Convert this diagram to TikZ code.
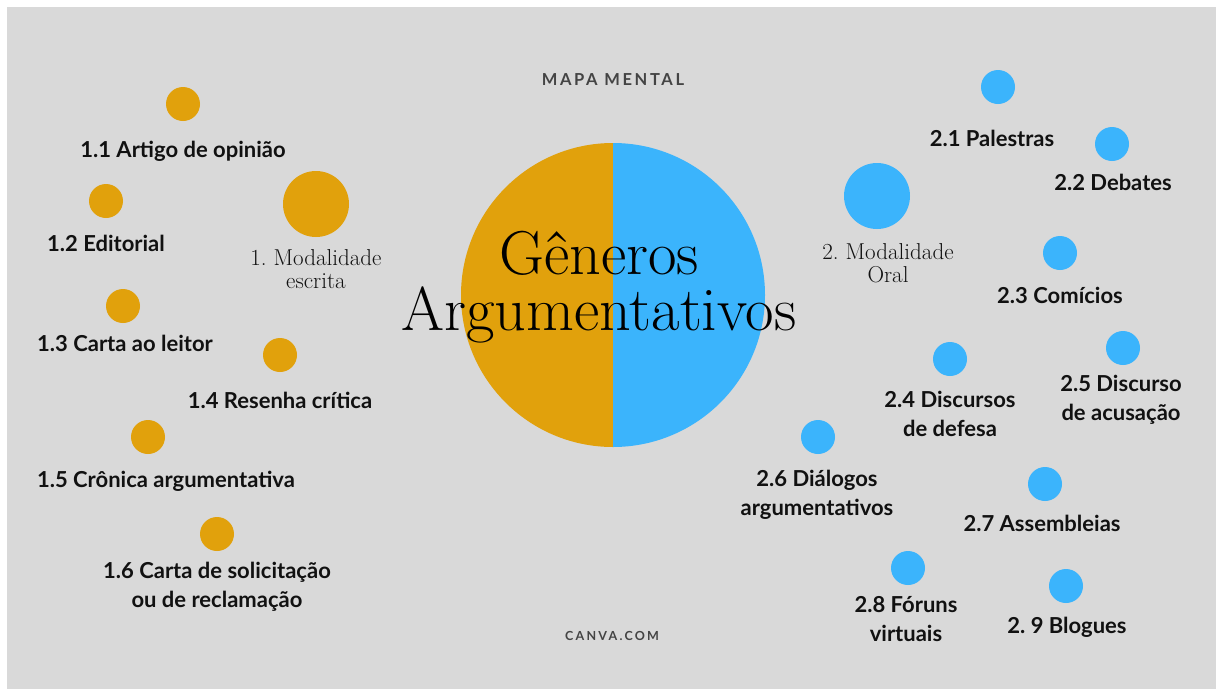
\documentclass[tikz,border=0pt]{standalone}
\usepackage{fontspec}
\setmainfont{Latin Modern Roman}
\newfontfamily\labfont{Lato}
\frenchspacing
\definecolor{bg}{HTML}{D9D9D9}
\definecolor{orng}{HTML}{E1A10C}
\definecolor{blu}{HTML}{3BB4FC}
\definecolor{txt}{HTML}{111111}
\definecolor{grytxt}{HTML}{444444}
\tikzset{
  od/.style={circle,fill=orng,minimum size=34pt,inner sep=0pt},
  bd/.style={circle,fill=blu,minimum size=34pt,inner sep=0pt},
  bigo/.style={circle,fill=orng,minimum size=66pt,inner sep=0pt},
  bigb/.style={circle,fill=blu,minimum size=66pt,inner sep=0pt},
  lab/.style={font=\labfont\bfseries\fontsize{22}{29}\selectfont,text=txt,align=center,inner sep=0pt},
  serlab/.style={font=\fontsize{23}{23}\selectfont,text=txt,align=center,inner sep=0pt},
  small/.style={font=\labfont\bfseries\fontsize{16.5}{18}\selectfont\addfontfeature{LetterSpace=16},text=grytxt,inner sep=0pt},
}
\begin{document}
\begin{tikzpicture}[x=1pt,y=-1pt]
\useasboundingbox (0,0) rectangle (1216,689);
\fill[white] (0,0) rectangle (1216,689);
\fill[bg] (7,7) rectangle (1216,689);
% central circle
\fill[orng] (613,143) arc (270:90:152) -- cycle;
\fill[blu] (613,143) arc (-90:90:152) -- cycle;
\node[font=\fontsize{62}{56}\selectfont,align=center,inner sep=0pt] (title) at (599,287) {Gêneros\\Argumentativos};
\node[small] (mapa) at (613,80) {MAPA MENTAL};
\node[small,font=\labfont\bfseries\fontsize{12.5}{14}\selectfont\addfontfeature{LetterSpace=18}] (canva) at (612,636) {CANVA.COM};
% left side
\node[bigo] (m1) at (316,204) {};
\node[serlab] (m1l) at (316,269) {1. Modalidade\\escrita};
\node[od] (o1) at (183,104) {};
\node[lab] (o1l) at (183,151) {1.1 Artigo de opinião};
\node[od] (o2) at (106,201) {};
\node[lab] (o2l) at (106,243) {1.2 Editorial};
\node[od] (o3) at (123,306) {};
\node[lab] (o3l) at (125,343) {1.3 Carta ao leitor};
\node[od] (o4) at (280,355) {};
\node[lab] (o4l) at (280,400) {1.4 Resenha crítica};
\node[od] (o5) at (148,437) {};
\node[lab] (o5l) at (166,481) {1.5 Crônica argumentativa};
\node[od] (o6) at (217,534) {};
\node[lab] (o6l) at (217,587) {1.6 Carta de solicitação\\ou de reclamação};
% right side
\node[bigb] (m2) at (877,196) {};
\node[serlab] (m2l) at (888,263) {2. Modalidade\\Oral};
\node[bd] (b1) at (998,87) {};
\node[lab] (b1l) at (992,138) {2.1 Palestras};
\node[bd] (b2) at (1112,144) {};
\node[lab] (b2l) at (1113,182) {2.2 Debates};
\node[bd] (b3) at (1060,253) {};
\node[lab] (b3l) at (1060,295) {2.3 Comícios};
\node[bd] (b4) at (950,359) {};
\node[lab] (b4l) at (950,414) {2.4 Discursos\\de defesa};
\node[bd] (b5) at (1123,348) {};
\node[lab] (b5l) at (1121,400) {2.5 Discurso\\de acusação};
\node[bd] (b6) at (818,437) {};
\node[lab] (b6l) at (817,495) {2.6 Diálogos\\argumentativos};
\node[bd] (b7) at (1045,484) {};
\node[lab] (b7l) at (1042,523) {2.7 Assembleias};
\node[bd] (b8) at (908,568) {};
\node[lab] (b8l) at (906,619) {2.8 Fóruns\\virtuais};
\node[bd] (b9) at (1066,586) {};
\node[lab] (b9l) at (1067,627) {2. 9 Blogues};
\end{tikzpicture}
\end{document}
